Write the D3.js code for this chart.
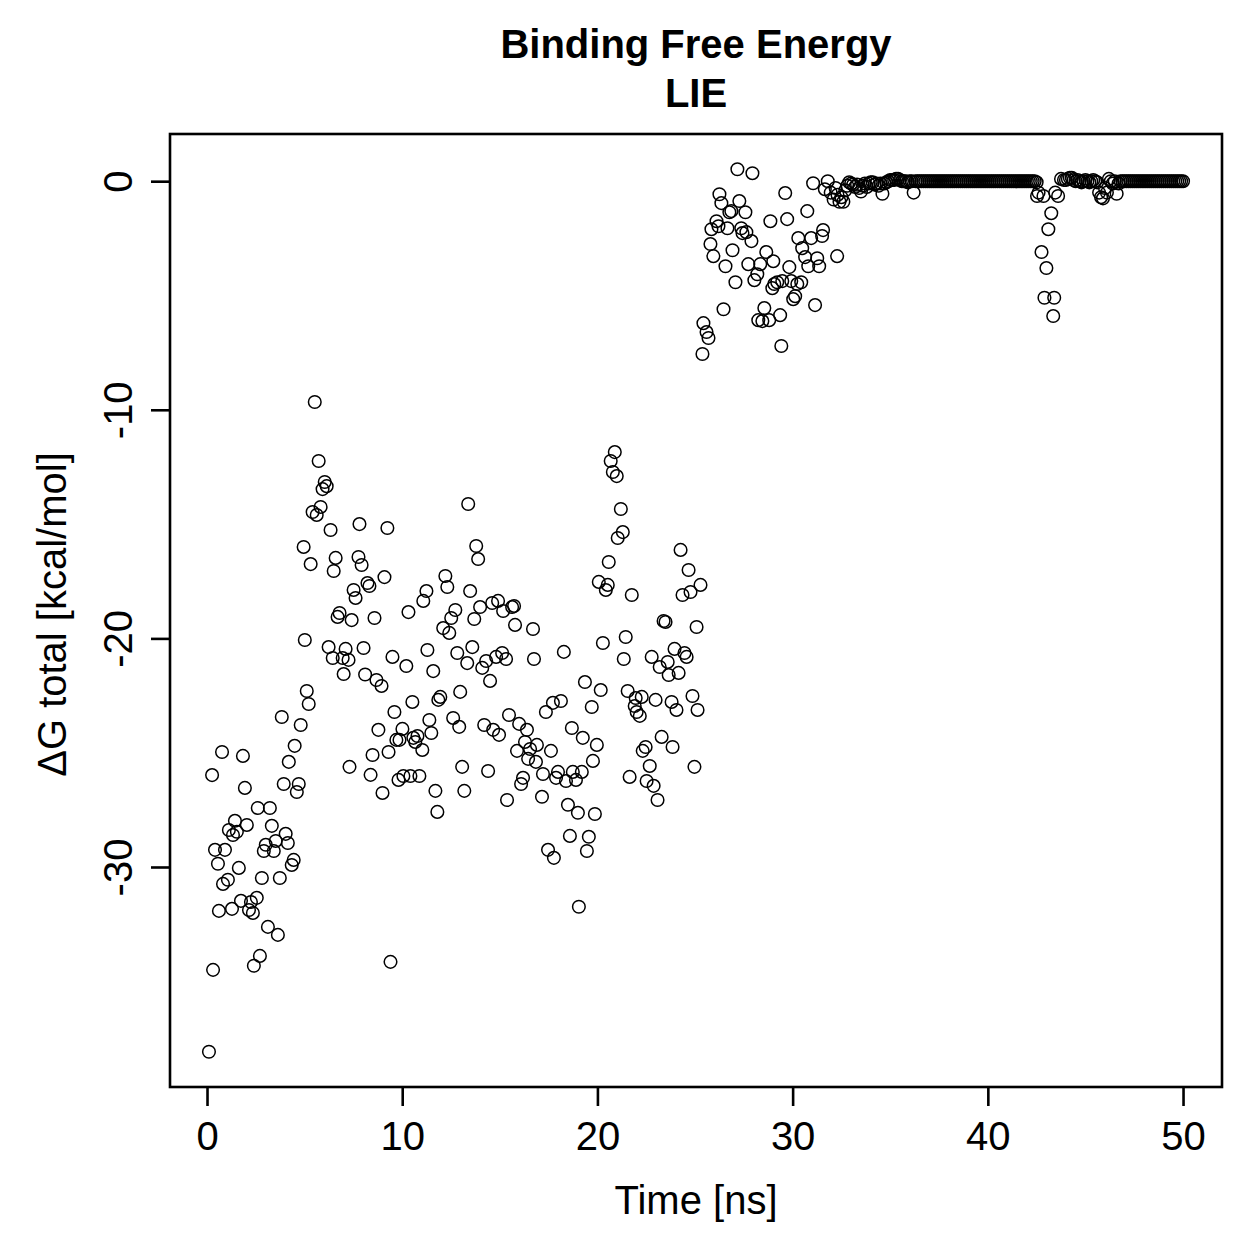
<!DOCTYPE html>
<html><head><meta charset="utf-8">
<script src="https://cdn.jsdelivr.net/npm/d3@7"></script>
<style>
body{margin:0;background:#fff}
text{font-family:"Liberation Sans",Arial,Helvetica,sans-serif;fill:#000}
</style>
</head><body>
<svg id="chart" width="1259" height="1259"></svg>
<script>
// ---- data (time in ns, dG total in kcal/mol) ----
const earlyPhase = [
[0.10,-38.08],[0.26,-25.98],[0.31,-34.50],[0.41,-29.25],[0.56,-29.86],[0.61,-31.92],[0.77,-24.97],[0.82,-30.74],[0.92,-29.25],[1.07,-30.56],
[1.12,-28.38],[1.28,-31.83],[1.33,-28.60],[1.43,-27.98],[1.53,-28.46],[1.63,-30.04],[1.74,-31.48],[1.84,-25.14],[1.94,-26.54],[2.04,-28.16],
[2.15,-31.88],[2.25,-31.53],[2.35,-32.01],[2.40,-34.32],[2.55,-31.35],[2.60,-27.42],[2.71,-33.89],[2.81,-30.48],[2.91,-29.30],[3.01,-29.03],
[3.12,-32.62],[3.22,-27.42],[3.32,-28.20],[3.42,-29.30],[3.52,-28.86],[3.63,-32.97],[3.73,-30.48],[3.83,-23.44],[3.93,-26.37],[4.03,-28.55],
[4.14,-28.95],[4.19,-25.40],[4.34,-29.91],[4.44,-29.69],[4.49,-24.70],[4.60,-26.72],[4.70,-26.37],[4.80,-23.79],[4.95,-16.00],[5.01,-20.07],
[5.11,-22.30],[5.21,-22.87],[5.31,-16.75],[5.41,-14.47],[5.52,-9.66],[5.62,-14.60],[5.72,-12.24],[5.82,-14.25],[5.92,-13.47],[6.03,-13.16],
[6.13,-13.34],[6.23,-20.38],[6.33,-15.26],[6.44,-20.86],[6.49,-17.05],[6.59,-16.48],[6.69,-19.06],[6.79,-18.89],[6.95,-20.86],[7.00,-21.56],
[7.10,-20.46],[7.25,-20.94],[7.30,-25.62],[7.41,-19.20],[7.51,-17.88],[7.61,-18.23],[7.76,-16.44],[7.81,-15.00],[7.92,-16.79],[8.02,-20.42],
[8.10,-21.58],[8.22,-17.58],[8.32,-17.71],[8.38,-25.97],[8.48,-25.10],[8.58,-19.11],[8.68,-21.82],[8.78,-24.00],[8.94,-22.08],[8.99,-26.76],
[9.09,-17.32],[9.24,-15.17],[9.30,-24.97],[9.40,-34.15],[9.50,-20.81],[9.60,-23.22],[9.70,-24.44],[9.81,-26.19],[9.86,-24.44],[10.01,-23.96],
[10.06,-26.02],[10.21,-21.21],[10.32,-18.85],[10.42,-26.02],[10.52,-22.78],[10.57,-24.35],[10.67,-24.53],[10.78,-24.27],[10.88,-26.02],[11.03,-24.88],
[11.08,-18.36],[11.24,-17.93],[11.29,-20.51],[11.39,-23.57],[11.49,-24.14],[11.59,-21.43],[11.70,-26.67],[11.80,-27.59],[11.85,-22.69],[11.95,-22.56],
[12.10,-19.55],[12.21,-17.27],[12.31,-17.75],[12.41,-19.76],[12.51,-19.11],[12.61,-23.48],[12.72,-18.76],[12.82,-20.64],[12.92,-23.87],[12.97,-22.34],
[13.07,-25.62],[13.18,-26.67],[13.33,-21.08],[13.38,-14.12],[13.48,-17.93],[13.59,-20.38],[13.69,-19.15],[13.79,-15.96],[13.89,-16.53],[13.99,-18.63],
[14.10,-21.29],[14.20,-23.79],[14.30,-20.99],[14.40,-25.80],[14.50,-21.86],[14.61,-18.45],[14.66,-24.00],[14.81,-20.81],[14.91,-18.36],[14.96,-24.22],
[15.12,-20.64],[15.17,-18.80],[15.32,-20.90],[15.37,-27.07],[15.47,-23.35],[15.63,-18.63],[15.73,-18.58],[15.78,-19.41],[15.88,-24.92],[15.99,-23.74],
[16.09,-26.37],[16.19,-26.10],[16.29,-24.53],[16.39,-24.00],[16.45,-25.27],[16.55,-24.84],[16.70,-19.59],[16.75,-20.90],[16.85,-25.40],[16.90,-24.66],
[17.16,-26.93],[17.21,-25.93],[17.36,-23.22],[17.47,-29.25],[17.62,-24.92],[17.72,-22.82],[17.77,-29.60],[17.88,-26.10],[17.98,-25.84],[18.13,-22.74],
[18.28,-20.59],[18.39,-26.24],[18.49,-27.28],[18.59,-28.64],[18.69,-23.92],[18.74,-25.84],[18.90,-26.19],[19.00,-27.63],[19.05,-31.74],[19.20,-25.84],
[19.25,-24.35],[19.36,-21.91],[19.46,-29.30],[19.56,-28.68],[19.71,-23.00],[19.77,-25.36],[19.87,-27.68],[19.97,-24.66],[20.07,-17.53],[20.17,-22.26],
[20.28,-20.20],[20.43,-17.88],[20.53,-17.66],[20.58,-16.66],[20.68,-12.24],[20.79,-12.72],[20.89,-11.85],[20.99,-12.90],[21.04,-15.61],[21.20,-14.34],
[21.30,-15.35],[21.35,-20.90],[21.45,-19.94],[21.55,-22.30],[21.65,-26.06],[21.76,-18.10],[21.91,-22.96],[21.96,-22.61],[22.01,-23.22],[22.17,-23.39],
[22.27,-22.56],[22.32,-24.92],[22.47,-24.75],[22.52,-26.24],[22.68,-25.58],[22.78,-20.81],[22.88,-26.45],[22.98,-22.69],[23.08,-27.07],[23.19,-21.25],
[23.29,-24.31],[23.39,-19.24],[23.49,-19.28],[23.60,-21.03],[23.65,-21.60],[23.80,-22.78],[23.85,-24.75],[23.95,-20.46],[24.05,-23.13],[24.16,-21.51],
[24.26,-16.13],[24.36,-18.10],[24.46,-20.64],[24.57,-20.81],[24.67,-17.01],[24.77,-17.97],[24.87,-22.52],[24.97,-25.62],[25.08,-19.50],[25.13,-23.13],
[25.28,-17.66]
];

const transitionPhase = [
[25.38,-7.56],[25.43,-6.21],[25.59,-6.60],[25.69,-6.86],[25.79,-2.75],[25.84,-2.10],[25.94,-3.28],[26.10,-1.75],[26.20,-1.97],[26.25,-0.57],
[26.35,-0.96],[26.46,-5.60],[26.56,-3.72],[26.66,-2.06],[26.76,-1.36],[26.86,-1.31],[26.92,-3.02],[27.07,-4.42],[27.17,0.52],[27.27,-0.87],
[27.37,-2.06],[27.43,-2.27],[27.58,-1.36],[27.63,-2.23],[27.73,-3.63],[27.89,-2.62],[27.94,0.35],[28.04,-4.33],[28.19,-4.07],[28.24,-6.08],
[28.34,-3.63],[28.45,-6.12],[28.55,-5.55],[28.65,-3.10],[28.80,-6.08],[28.86,-1.75],[28.96,-4.68],[29.01,-3.50],[29.06,-4.50],[29.21,-4.42],
[29.36,-5.86],[29.42,-7.21],[29.47,-4.37],[29.62,-0.52],[29.72,-1.66],[29.83,-3.76],[29.93,-4.37],[30.03,-5.16],[30.13,-5.03],[30.24,-4.50],
[30.29,-2.49],[30.44,-4.42],[30.49,-2.93],[30.64,-3.32],[30.75,-1.31],[30.80,-3.72],[30.95,-2.49],[31.05,-0.09],[31.15,-5.42],[31.26,-3.37],
[31.36,-3.72],[31.51,-2.40],[31.56,-2.14],[32.28,-3.28]
];

const settlingPhase = [
[31.65,-0.35],[31.80,0.00],[31.95,-0.50],
[32.1,-0.80],[32.2,-0.30],[32.3,-0.60],[32.4,-0.90],[32.5,-0.70],[32.6,-0.90],[32.7,-0.40],[32.8,-0.20],[32.9,-0.05],[33.0,-0.10],
[33.1,-0.15],[33.2,-0.25],[33.3,-0.15],[33.4,-0.30],[33.5,-0.45],[33.6,-0.20],[33.7,-0.10],[33.8,-0.25],[33.9,-0.10],[34.0,-0.05],
[34.1,-0.05],[34.2,-0.15],[34.3,-0.10],[34.4,-0.20],[34.5,-0.10],[34.6,-0.55],[34.7,-0.10],[34.8,-0.05],[34.9,0.00],[35.0,0.05],
[35.1,0.05],[35.2,0.05],[35.3,0.10],[35.4,0.10],[35.5,0.05],[35.6,0.00],[35.7,0.00],[35.8,0.00],[35.9,-0.05],
[36.0,0.00],[36.1,0.00],[36.2,-0.50],[36.3,0.00]
];

const plateauA = [
[36.4,0],[36.5,0],[36.6,0],[36.7,0],[36.8,0],[36.9,0],[37.0,0],[37.1,0],[37.2,0],[37.3,0],[37.4,0],[37.5,0],[37.6,0],[37.7,0],[37.8,0],[37.9,0],
[38.0,0],[38.1,0],[38.2,0],[38.3,0],[38.4,0],[38.5,0],[38.6,0],[38.7,0],[38.8,0],[38.9,0],[39.0,0],[39.1,0],[39.2,0],[39.3,0],[39.4,0],[39.5,0],
[39.6,0],[39.7,0],[39.8,0],[39.9,0],[40.0,0],[40.1,0],[40.2,0],[40.3,0],[40.4,0],[40.5,0],[40.6,0],[40.7,0],[40.8,0],[40.9,0],[41.0,0],[41.1,0],
[41.2,0],[41.3,0],[41.4,0],[41.5,0],[41.6,0],[41.7,0],[41.8,0],[41.9,0],[42.0,0],[42.1,0],[42.2,0],[42.3,0],[42.4,0]
];

const dipPhase = [
[42.50,-0.05],[42.52,-0.65],[42.60,-0.50],[42.75,-3.10],[42.85,-0.65],[42.90,-5.10],[43.00,-3.80],[43.10,-2.10],[43.25,-1.40],[43.35,-5.90],
[43.40,-5.10],[43.45,-0.50],[43.60,-0.65],[43.75,0.10],[43.90,0.05],
[44.0,0.05],[44.1,0.10],[44.2,0.15],[44.3,0.15],[44.4,0.05],[44.5,0.00],[44.6,0.05],[44.7,0.00],[44.8,-0.05],[44.9,0.00],
[45.0,0.05],[45.1,0.00],[45.2,-0.05],[45.3,0.00],[45.4,0.05],[45.5,0.00],[45.6,-0.05],[45.7,-0.50],[45.8,-0.70],[45.9,-0.75],
[46.0,-0.30],[46.1,-0.50],[46.2,0.10],[46.3,0.00],[46.4,-0.10],[46.5,0.00],[46.6,-0.55],[46.7,-0.10]
];

const plateauB = [
[46.8,0],[46.9,0],[47.0,0],[47.1,0],[47.2,0],[47.3,0],[47.4,0],[47.5,0],[47.6,0],[47.7,0],[47.8,0],[47.9,0],[48.0,0],[48.1,0],[48.2,0],[48.3,0],
[48.4,0],[48.5,0],[48.6,0],[48.7,0],[48.8,0],[48.9,0],[49.0,0],[49.1,0],[49.2,0],[49.3,0],[49.4,0],[49.5,0],[49.6,0],[49.7,0],[49.8,0],[49.9,0],[50.0,0]
];

const xTickValues = [0, 10, 20, 30, 40, 50];
const yTickValues = [0, -10, -20, -30];
const titleLines = ["Binding Free Energy", "LIE"];
const xLabel = "Time [ns]";
const yLabel = "\u0394G total [kcal/mol]";

// ---- build ----
const points = earlyPhase.concat(transitionPhase, settlingPhase, plateauA, dipPhase, plateauB);

const W = 1259, H = 1259;
const plot = {left: 170, right: 1222, top: 134, bottom: 1087};
const fontSize = 40;

function padded(ext) { const r = ext[1] - ext[0]; return [ext[0] - 0.04 * r, ext[1] + 0.04 * r]; }
const x = d3.scaleLinear().domain(padded(d3.extent(points, d => d[0]))).range([plot.left, plot.right]);
const y = d3.scaleLinear().domain(padded(d3.extent(points, d => d[1]))).range([plot.bottom, plot.top]);

const svg = d3.select("#chart");
svg.append("rect").attr("width", W).attr("height", H).attr("fill", "#fff");

// points
svg.append("g").selectAll("circle").data(points).join("circle")
  .attr("cx", d => x(d[0])).attr("cy", d => y(d[1])).attr("r", 6.3)
  .attr("fill", "none").attr("stroke", "#000").attr("stroke-width", 1.5);

// x axis
const xAxis = svg.append("g").attr("transform", `translate(0,${plot.bottom})`)
  .call(d3.axisBottom(x).tickValues(xTickValues).tickFormat(d => String(d))
        .tickSize(19).tickSizeOuter(0).tickPadding(16));
xAxis.select(".domain").remove();
xAxis.selectAll("line").attr("stroke", "#000").attr("stroke-width", 2.6);
xAxis.selectAll("text").attr("font-size", fontSize).attr("font-family", null);

// y axis
const yAxis = svg.append("g").attr("transform", `translate(${plot.left},0)`)
  .call(d3.axisLeft(y).tickValues(yTickValues).tickFormat(d => String(d))
        .tickSize(19).tickSizeOuter(0));
yAxis.select(".domain").remove();
yAxis.selectAll("line").attr("stroke", "#000").attr("stroke-width", 2.6);
yAxis.selectAll("text").attr("font-size", fontSize).attr("font-family", null)
  .attr("text-anchor", "middle").attr("transform", "rotate(-90)")
  .attr("x", 0).attr("y", -38).attr("dy", 0);

// box
svg.append("rect").attr("x", plot.left).attr("y", plot.top)
  .attr("width", plot.right - plot.left).attr("height", plot.bottom - plot.top)
  .attr("fill", "none").attr("stroke", "#000").attr("stroke-width", 2.6);

// titles
const cx = (plot.left + plot.right) / 2;
svg.append("text").attr("x", cx).attr("y", 58).attr("text-anchor", "middle")
  .attr("font-size", fontSize).attr("font-weight", "bold").text(titleLines[0]);
svg.append("text").attr("x", cx).attr("y", 107).attr("text-anchor", "middle")
  .attr("font-size", fontSize).attr("font-weight", "bold").text(titleLines[1]);

// axis labels
svg.append("text").attr("x", cx).attr("y", 1214).attr("text-anchor", "middle")
  .attr("font-size", fontSize).text(xLabel);
svg.append("text").attr("transform", `translate(66,${(plot.top + plot.bottom) / 2 + 4}) rotate(-90)`)
  .attr("text-anchor", "middle").attr("font-size", fontSize).text(yLabel);
</script>
</body></html>
